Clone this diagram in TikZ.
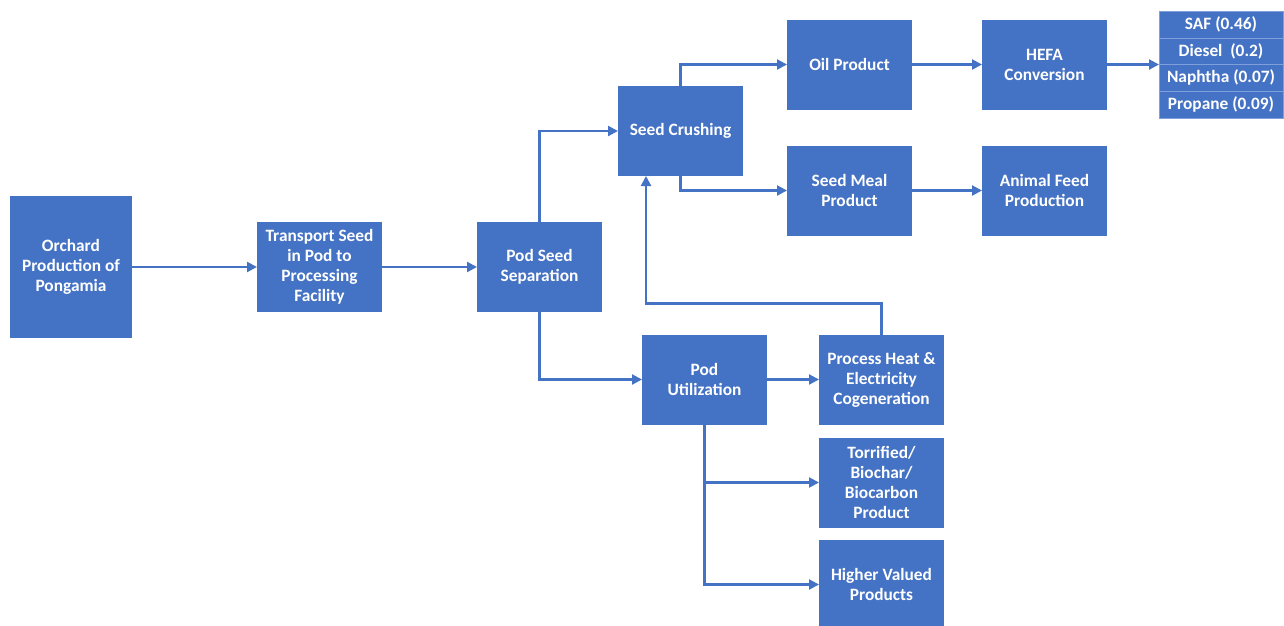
\documentclass[tikz,border=0pt]{standalone}
\usepackage{fontspec}
\setmainfont{Carlito}
\usepackage{xcolor}
\usepackage{tikz}
\usetikzlibrary{arrows.meta,positioning,calc}
\definecolor{pgblue}{HTML}{4472C4}
\definecolor{pgedge}{HTML}{7F9FDA}
\tikzset{
  block/.style={rectangle, draw=none, fill=pgblue, text=white, align=center,
                font=\fontsize{13}{15}\selectfont\bfseries,
                minimum width=93.75pt, minimum height=67.5pt, inner sep=1pt, outer sep=0pt},
  yield/.style={rectangle, draw=pgedge, line width=0.5pt, fill=pgblue, text=white, align=center,
                font=\fontsize{13}{14}\selectfont\bfseries,
                minimum width=93pt, minimum height=20pt, inner sep=0pt, outer sep=0pt},
  ar/.style={-{Triangle[length=7.5pt,width=7.5pt]}, draw=pgblue, line width=1.6pt},
}
\begin{document}
\begin{tikzpicture}[x=0.75pt,y=-0.75pt]
\useasboundingbox (0,0) rectangle (1284,625);
\node[block,minimum width=91.5pt,minimum height=106.5pt] (orch) at (71,267) {Orchard\\Production of\\Pongamia};
\node[block,right=93.75pt of orch] (trans) {Transport Seed\\in Pod to\\Processing\\Facility};
\node[block,right=71.25pt of trans] (sep) {Pod Seed\\Separation};
\node[block,above right=34.5pt and 12pt of sep] (crush) {Seed Crushing};

\node[block] (oil) at (849.5,64.5) {Oil Product};
\node[block,right=52.5pt of oil] (hefa) {HEFA\\Conversion};
\node[block] (meal) at (849.5,190.5) {Seed Meal\\Product};
\node[block,right=52.5pt of meal] (feed) {Animal Feed\\Production};

% yields per unit of oil
\node[yield] (saf) at (1221,24.5) {SAF (0.46)};
\node[yield,below=0pt of saf] (dsl) {Diesel~~(0.2)};
\node[yield,below=0pt of dsl] (nap) {Naphtha (0.07)};
\node[yield,below=0pt of nap] (prp) {Propane (0.09)};

\node[block] (podu) at (704.5,379.5) {Pod\\Utilization};
\node[block,right=39pt of podu] (heat) {Process Heat \&\\Electricity\\Cogeneration};
\node[block,below=9.75pt of heat] (torr) {Torrified/\\Biochar/\\Biocarbon\\Product};
\node[block,below=9pt of torr] (high) {Higher Valued\\Products};

\coordinate (lst) at (saf.west |- hefa.east);
\coordinate (fbin) at ([xshift=21pt]crush.south west);

\draw[ar] (orch) -- (trans); \draw[ar] (trans) -- (sep);
\draw[ar] (sep.north) |- (crush.west);
\draw[ar] (sep.south) |- (podu.west);
\draw[ar] (crush.north) |- (oil.west);
\draw[ar] (crush.south) |- (meal.west);
\draw[ar] (oil) -- (hefa); \draw[ar] (hefa) -- (lst);
\draw[ar] (meal) -- (feed);
\draw[ar] (podu) -- (heat);
\draw[ar] (podu.south) |- (torr.west);
\draw[ar] (podu.south) |- (high.west);
\draw[ar] (heat.north) -- ++(0,-31) -| (fbin);
\end{tikzpicture}
\end{document}
